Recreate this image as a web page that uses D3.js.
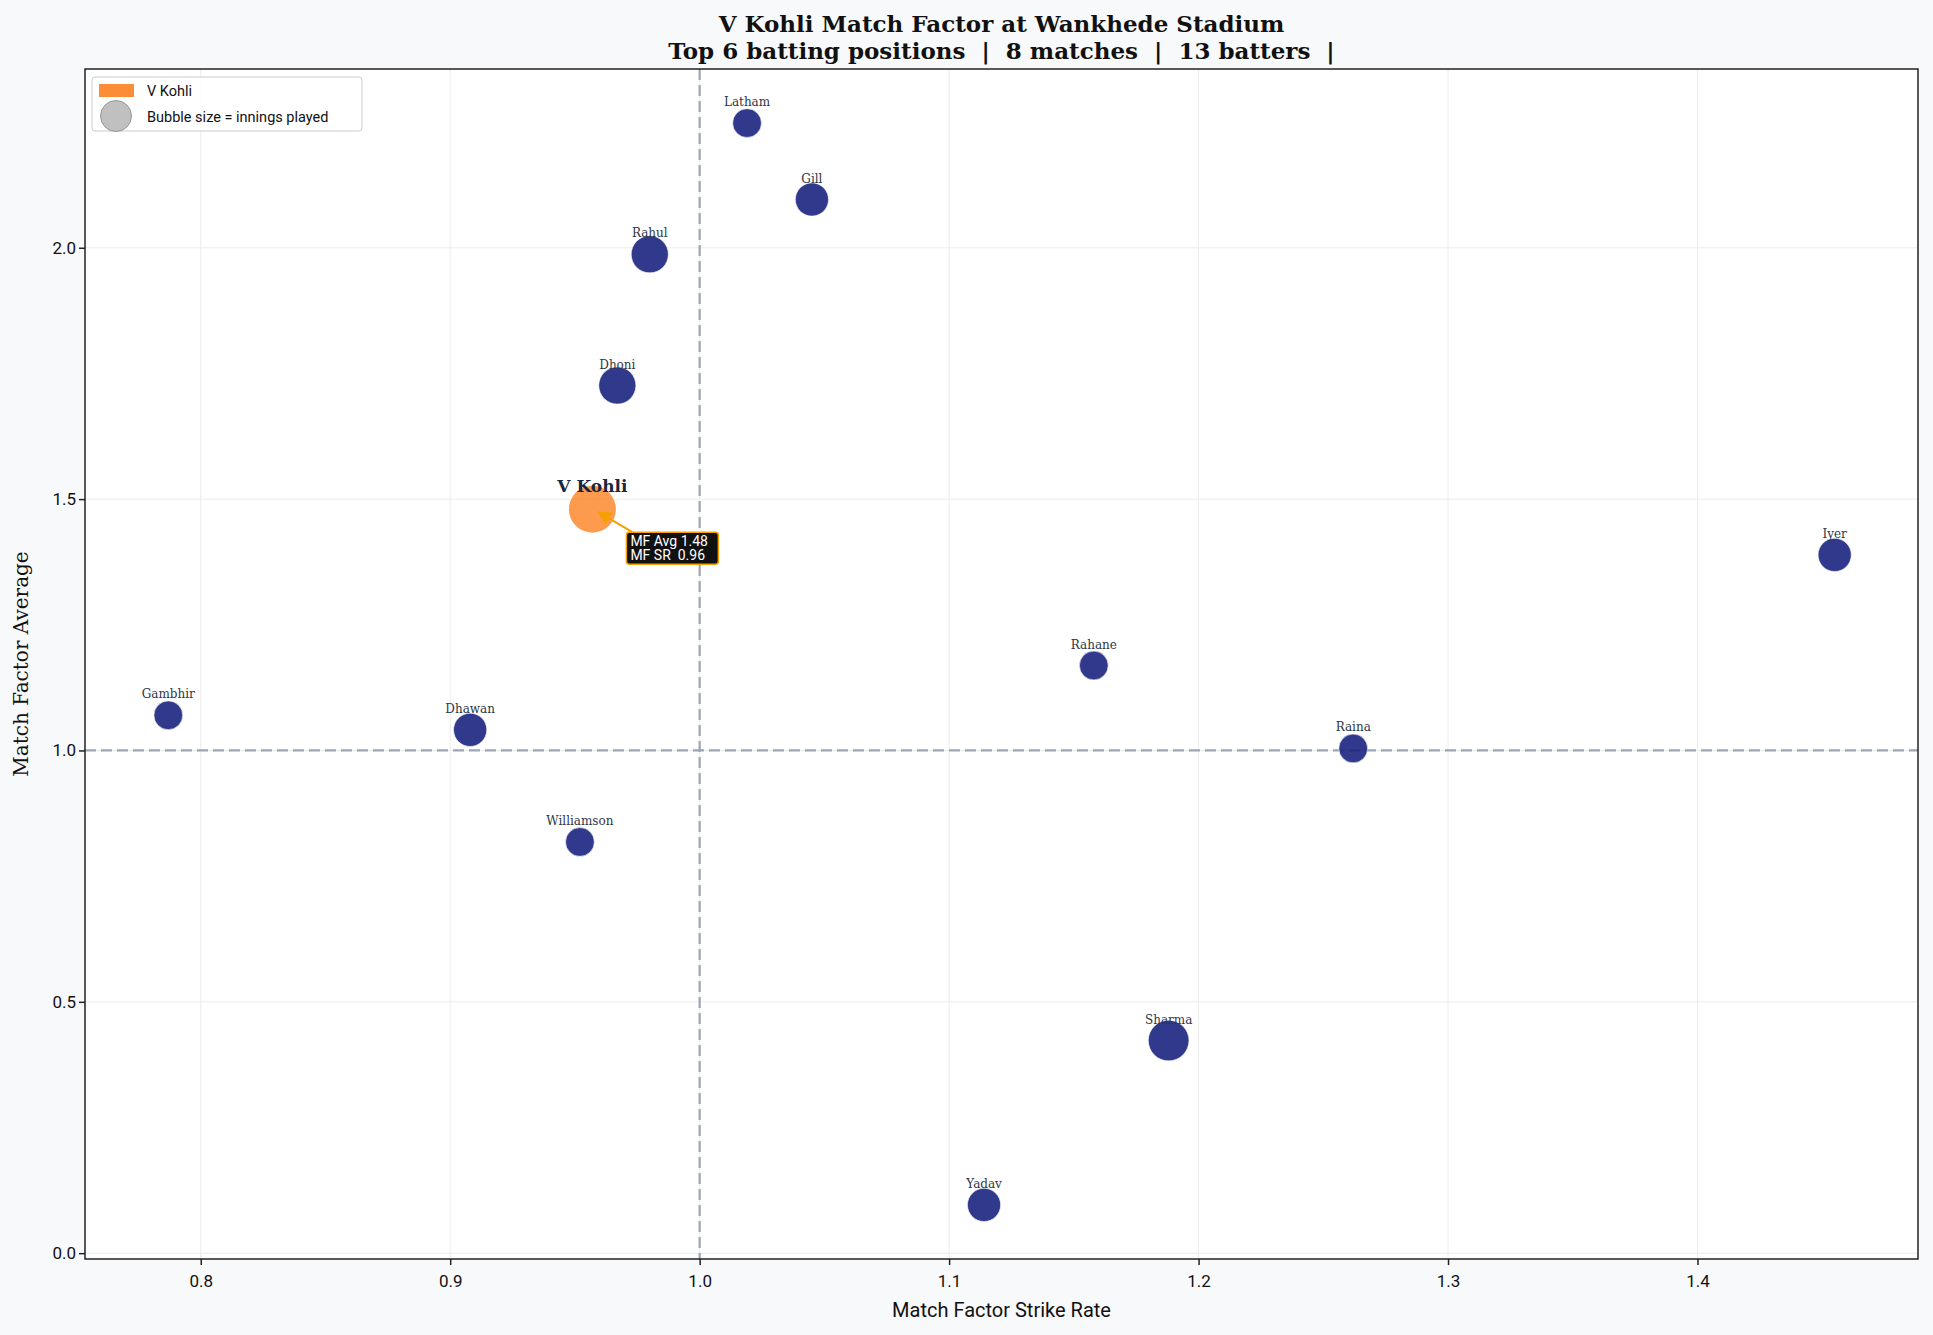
<!DOCTYPE html>
<html>
<head>
<meta charset="utf-8">
<script src="https://cdn.jsdelivr.net/npm/d3@7"></script>
<style>
  body { margin: 0; background: #f8f9fb; }
  svg { display: block; }
</style>
</head>
<body>
<script>
// batters at Wankhede, top 6 positions
var names    = ['Latham', 'Gill', 'Rahul', 'Dhoni', 'V Kohli', 'Iyer', 'Rahane', 'Raina', 'Gambhir', 'Dhawan', 'Williamson', 'Sharma', 'Yadav'];
var mfSR     = [1.019, 1.045, 0.980, 0.967, 0.957, 1.455, 1.158, 1.262, 0.787, 0.908, 0.952, 1.188, 1.114];
var mfAvg    = [2.248, 2.096, 1.987, 1.726, 1.480, 1.389, 1.169, 1.004, 1.070, 1.041, 0.818, 0.423, 0.096];
var innings  = [3, 4, 5, 5, 8, 4, 3, 3, 3, 4, 3, 6, 4];
var xTicks   = [0.8, 0.9, 1.0, 1.1, 1.2, 1.3, 1.4];
var yTicks   = [0.0, 0.5, 1.0, 1.5, 2.0];
var focus    = 'V Kohli';

var data = names.map(function(n, i) {
  return { name: n, sr: mfSR[i], avg: mfAvg[i], inn: innings[i] };
});

var width = 1933;
var height = 1335;
var margin = { left: 85, right: 15, top: 69, bottom: 76 };

function padded(ext) {
  var pad = (ext[1] - ext[0]) * 0.05;
  return [ext[0] - pad, ext[1] + pad];
}

var xScale = d3.scaleLinear()
  .domain(padded(d3.extent(data, function(d) { return d.sr; })))
  .range([margin.left, width - margin.right]);

var yScale = d3.scaleLinear()
  .domain(padded(d3.extent(data, function(d) { return d.avg; })))
  .range([height - margin.bottom, margin.top]);

var rScale = d3.scaleSqrt().domain([0, 1]).range([0, Math.sqrt(69)]);

var svg = d3.select('body').append('svg')
  .attr('width', width)
  .attr('height', height);

var x0 = margin.left, x1 = width - margin.right;
var y0 = margin.top, y1 = height - margin.bottom;

svg.append('rect')
  .attr('x', x0).attr('y', y0)
  .attr('width', x1 - x0).attr('height', y1 - y0)
  .attr('fill', '#ffffff');

// grid
svg.append('g').selectAll('line.gx').data(xTicks).enter().append('line')
  .attr('x1', function(d) { return xScale(d); })
  .attr('x2', function(d) { return xScale(d); })
  .attr('y1', y0).attr('y2', y1)
  .attr('stroke', '#ececec').attr('stroke-width', 1);

svg.append('g').selectAll('line.gy').data(yTicks).enter().append('line')
  .attr('y1', function(d) { return yScale(d); })
  .attr('y2', function(d) { return yScale(d); })
  .attr('x1', x0).attr('x2', x1)
  .attr('stroke', '#ececec').attr('stroke-width', 1);

// reference lines at 1.0
svg.append('line')
  .attr('x1', xScale(1)).attr('x2', xScale(1))
  .attr('y1', y0).attr('y2', y1)
  .attr('stroke', '#9ba5b5').attr('stroke-width', 2.2)
  .attr('stroke-dasharray', '11,5');

svg.append('line')
  .attr('x1', x0).attr('x2', x1)
  .attr('y1', yScale(1)).attr('y2', yScale(1))
  .attr('stroke', '#9ba5b5').attr('stroke-width', 2.2)
  .attr('stroke-dasharray', '11,5');

// axes
var xAxis = d3.axisBottom(xScale).tickValues(xTicks).tickFormat(d3.format('.1f')).tickSize(6);
var yAxis = d3.axisLeft(yScale).tickValues(yTicks).tickFormat(d3.format('.1f')).tickSize(6);

var gx = svg.append('g')
  .attr('transform', 'translate(0,' + y1 + ')')
  .call(xAxis);
var gy = svg.append('g')
  .attr('transform', 'translate(' + x0 + ',0)')
  .call(yAxis);

[gx, gy].forEach(function(g) {
  g.select('.domain').remove();
  g.selectAll('line').attr('stroke', '#222').attr('stroke-width', 1.5);
  g.selectAll('text')
    .attr('font-family', 'Roboto, sans-serif')
    .attr('font-size', 17)
    .attr('fill', '#111');
});
gx.selectAll('text').attr('dy', '1.1em');

// frame
svg.append('rect')
  .attr('x', x0).attr('y', y0)
  .attr('width', x1 - x0).attr('height', y1 - y0)
  .attr('fill', 'none')
  .attr('stroke', '#222').attr('stroke-width', 1.5);

// bubbles
var others = data.filter(function(d) { return d.name !== focus; });
var me = data.filter(function(d) { return d.name === focus; })[0];

svg.append('g').selectAll('circle').data(others).enter().append('circle')
  .attr('cx', function(d) { return xScale(d.sr); })
  .attr('cy', function(d) { return yScale(d.avg); })
  .attr('r', function(d) { return rScale(d.inn); })
  .attr('fill', '#1a237e')
  .attr('fill-opacity', 0.9)
  .attr('stroke', '#ffffff').attr('stroke-width', 0.6);

svg.append('g').selectAll('text').data(others).enter().append('text')
  .attr('x', function(d) { return xScale(d.sr); })
  .attr('y', function(d) { return yScale(d.avg) - 17; })
  .attr('text-anchor', 'middle')
  .attr('font-family', '"DejaVu Serif", serif')
  .attr('font-size', 12)
  .attr('fill', '#2d3748')
  .text(function(d) { return d.name; });

svg.append('circle')
  .attr('cx', xScale(me.sr))
  .attr('cy', yScale(me.avg))
  .attr('r', rScale(me.inn))
  .attr('fill', '#fb8122')
  .attr('fill-opacity', 0.8);

svg.append('text')
  .attr('x', xScale(me.sr))
  .attr('y', yScale(me.avg) - 17)
  .attr('text-anchor', 'middle')
  .attr('font-family', '"DejaVu Serif", serif')
  .attr('font-weight', 'bold')
  .attr('font-size', 17)
  .attr('fill', '#1a2540')
  .text(me.name);

// callout
var cx = xScale(me.sr), cy = yScale(me.avg);
var bx = cx + 34, by = cy + 23;
svg.append('defs').append('marker')
  .attr('id', 'arrow')
  .attr('viewBox', '0 0 10 10')
  .attr('refX', 9).attr('refY', 5)
  .attr('markerWidth', 7).attr('markerHeight', 7)
  .attr('orient', 'auto')
  .append('path').attr('d', 'M0,0 L10,5 L0,10 Z').attr('fill', '#f5a000');

svg.append('line')
  .attr('x1', bx + 6).attr('y1', by)
  .attr('x2', cx + 6).attr('y2', cy + 3)
  .attr('stroke', '#f5a000').attr('stroke-width', 2)
  .attr('marker-end', 'url(#arrow)');

svg.append('rect')
  .attr('x', bx).attr('y', by)
  .attr('width', 92).attr('height', 32)
  .attr('rx', 3)
  .attr('fill', '#111111')
  .attr('stroke', '#f5a000').attr('stroke-width', 1.5);

var callout = svg.append('text')
  .attr('font-family', 'Roboto, sans-serif')
  .attr('font-size', 14)
  .attr('fill', '#ffffff')
  .attr('xml:space', 'preserve')
  .style('white-space', 'pre');
callout.append('tspan').attr('x', bx + 4).attr('y', by + 14).text('MF Avg ' + me.avg.toFixed(2));
callout.append('tspan').attr('x', bx + 4).attr('y', by + 28).text('MF SR  ' + me.sr.toFixed(2));

// axis labels
svg.append('text')
  .attr('x', (x0 + x1) / 2).attr('y', 1317)
  .attr('text-anchor', 'middle')
  .attr('font-family', 'Roboto, sans-serif')
  .attr('font-size', 20)
  .attr('fill', '#111')
  .text('Match Factor Strike Rate');

svg.append('text')
  .attr('transform', 'translate(28,' + ((y0 + y1) / 2) + ') rotate(-90)')
  .attr('text-anchor', 'middle')
  .attr('font-family', '"DejaVu Serif", serif')
  .attr('font-size', 20)
  .attr('fill', '#111')
  .text('Match Factor Average');

// title
var title = svg.append('text')
  .attr('text-anchor', 'middle')
  .attr('font-family', '"DejaVu Serif", serif')
  .attr('font-weight', 'bold')
  .attr('font-size', 23)
  .attr('fill', '#111')
  .attr('xml:space', 'preserve')
  .style('white-space', 'pre');
title.append('tspan').attr('x', (x0 + x1) / 2).attr('y', 32)
  .text('V Kohli Match Factor at Wankhede Stadium');
title.append('tspan').attr('x', (x0 + x1) / 2).attr('y', 59)
  .text('Top 6 batting positions  |  8 matches  |  13 batters  |');

// legend
var lg = svg.append('g').attr('transform', 'translate(92,77)');
lg.append('rect')
  .attr('width', 270).attr('height', 54).attr('rx', 3)
  .attr('fill', '#ffffff').attr('fill-opacity', 0.85)
  .attr('stroke', '#cccccc').attr('stroke-width', 1);
lg.append('rect')
  .attr('x', 7).attr('y', 7).attr('width', 35).attr('height', 13)
  .attr('fill', '#fb8122').attr('fill-opacity', 0.9);
lg.append('circle')
  .attr('cx', 24).attr('cy', 39).attr('r', 15.5)
  .attr('fill', '#c0c0c0').attr('stroke', '#999999').attr('stroke-width', 1);
lg.append('text')
  .attr('x', 55).attr('y', 19)
  .attr('font-family', 'Roboto, sans-serif').attr('font-size', 14.5).attr('fill', '#111')
  .text('V Kohli');
lg.append('text')
  .attr('x', 55).attr('y', 45)
  .attr('font-family', 'Roboto, sans-serif').attr('font-size', 14.5).attr('fill', '#111')
  .text('Bubble size = innings played');
</script>
</body>
</html>
